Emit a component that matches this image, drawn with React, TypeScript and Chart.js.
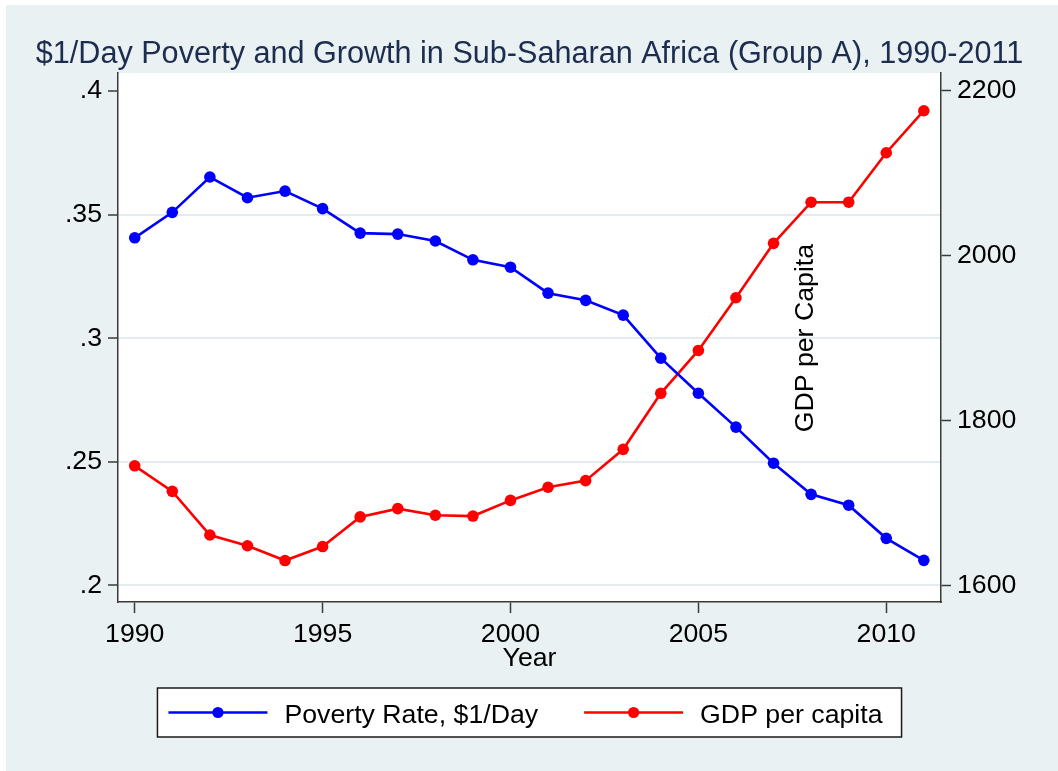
import React, { useEffect, useRef } from 'react';
import { Chart, registerables } from 'chart.js';

Chart.register(...registerables);

const years = [1990, 1991, 1992, 1993, 1994, 1995, 1996, 1997, 1998, 1999, 2000, 2001, 2002, 2003, 2004, 2005, 2006, 2007, 2008, 2009, 2010, 2011];
const povertyRate = [0.3406, 0.3509, 0.3652, 0.3568, 0.3595, 0.3524, 0.3425, 0.3421, 0.3393, 0.3317, 0.3287, 0.3182, 0.3153, 0.3093, 0.2919, 0.2777, 0.264, 0.2494, 0.2368, 0.2324, 0.219, 0.2101];
const gdpPerCapita = [1745, 1714, 1661, 1648, 1630, 1647, 1683, 1693, 1685, 1684, 1703, 1719, 1727, 1765, 1833, 1885, 1949, 2015, 2065, 2065, 2125, 2176];
const xTicks = [1990, 1995, 2000, 2005, 2010];
const leftTicks = [0.2, 0.25, 0.3, 0.35, 0.4];
const rightTicks = [1600, 1800, 2000, 2200];

const titleText = '$1/Day Poverty and Growth in Sub-Saharan Africa (Group A), 1990-2011';
const xTitle = 'Year';
const povertyLabel = 'Poverty Rate, $1/Day';
const gdpLabel = 'GDP per capita';
const annotationText = 'GDP per Capita';
const annotationYear = 2007.86;
const annotationValue = 1900;

const FONT = "'Liberation Sans', Arial, Helvetica, sans-serif";
const BG = '#eaf1f3';
const GRID = '#e2ebee';
const AXIS = '#3a3a3a';
const NAVY = '#1c2d50';
const BLUE = '#0000ff';
const RED = '#ff0000';
const TEXT_SIZE = 26.7;

const W = 1052;
const H = 766;

const fmtLeft = (v: number) => {
  const s = v.toFixed(2).replace(/0+$/, '').replace(/\.$/, '');
  return s.replace(/^0\./, '.');
};

const decorPlugin = {
  id: 'decor',
  afterDraw(chart: any) {
    const { ctx, chartArea, scales } = chart;
    const cx = (chartArea.left + chartArea.right) / 2;
    ctx.save();
    // Title
    ctx.font = `30.6px ${FONT}`;
    ctx.fillStyle = NAVY;
    ctx.textAlign = 'center';
    ctx.textBaseline = 'alphabetic';
    ctx.fillText(titleText, cx, chartArea.top - 9.7);

    // Rotated annotation
    const ax = scales.x.getPixelForValue(annotationYear);
    const ay = scales.y1.getPixelForValue(annotationValue);
    ctx.save();
    ctx.translate(ax, ay);
    ctx.rotate(-Math.PI / 2);
    ctx.font = `${TEXT_SIZE}px ${FONT}`;
    ctx.fillStyle = '#000';
    ctx.textAlign = 'center';
    ctx.textBaseline = 'middle';
    ctx.fillText(annotationText, 0, 0);
    ctx.restore();

    // Legend
    ctx.font = `${TEXT_SIZE}px ${FONT}`;
    const t1 = ctx.measureText(povertyLabel).width;
    const t2 = ctx.measureText(gdpLabel).width;
    const sym = 99;
    const padL = 11;
    const gap = 17;
    const colGap = 46;
    const padR = 19;
    const bw = padL + sym + gap + t1 + colGap + sym + gap + t2 + padR;
    const bh = 49;
    const bx = cx - bw / 2;
    const by = chartArea.bottom + 86;
    ctx.fillStyle = '#ffffff';
    ctx.fillRect(bx, by, bw, bh);
    ctx.strokeStyle = '#1a1a1a';
    ctx.lineWidth = 1.5;
    ctx.strokeRect(bx, by, bw, bh);
    const my = by + bh / 2;
    const items = [
      { color: BLUE, label: povertyLabel, x: bx + padL },
      { color: RED, label: gdpLabel, x: bx + padL + sym + gap + t1 + colGap },
    ];
    for (const it of items) {
      ctx.strokeStyle = it.color;
      ctx.lineWidth = 2.6;
      ctx.beginPath();
      ctx.moveTo(it.x, my);
      ctx.lineTo(it.x + sym, my);
      ctx.stroke();
      ctx.fillStyle = it.color;
      ctx.beginPath();
      ctx.arc(it.x + sym / 2, my, 5.6, 0, Math.PI * 2);
      ctx.fill();
      ctx.fillStyle = '#000';
      ctx.textAlign = 'left';
      ctx.textBaseline = 'alphabetic';
      ctx.fillText(it.label, it.x + sym + gap, my + 10);
    }
    ctx.restore();
  },
};

export default function App() {
  const ref = useRef<HTMLCanvasElement | null>(null);

  useEffect(() => {
    if (!ref.current) return;
    const tickFont = { family: FONT, size: TEXT_SIZE };
    const chart = new Chart(ref.current, {
      type: 'line',
      data: {
        datasets: [
          {
            label: povertyLabel,
            data: years.map((y, i) => ({ x: y, y: povertyRate[i] })),
            yAxisID: 'y',
            borderColor: BLUE,
            backgroundColor: BLUE,
            borderWidth: 2.6,
            pointRadius: 5.8,
            pointBorderWidth: 0,
            pointBackgroundColor: BLUE,
            tension: 0,
          },
          {
            label: gdpLabel,
            data: years.map((y, i) => ({ x: y, y: gdpPerCapita[i] })),
            yAxisID: 'y1',
            borderColor: RED,
            backgroundColor: RED,
            borderWidth: 2.6,
            pointRadius: 5.8,
            pointBorderWidth: 0,
            pointBackgroundColor: RED,
            tension: 0,
          },
        ],
      },
      options: {
        animation: false,
        responsive: false,
        layout: { padding: { top: 68, bottom: 99.5, left: 0, right: 0 } },
        plugins: {
          legend: { display: false },
          title: { display: false },
          tooltip: { enabled: false },
        },
        scales: {
          x: {
            type: 'linear',
            position: 'bottom',
            min: 1989.555,
            max: 2011.457,
            afterBuildTicks: (s: any) => {
              s.ticks = xTicks.map((v) => ({ value: v }));
            },
            afterFit: (s: any) => {
              s.height = 69.5;
            },
            ticks: {
              font: tickFont,
              color: '#000',
              padding: 6,
              maxRotation: 0,
              autoSkip: false,
              callback: (v: any) => String(v),
            },
            grid: { drawOnChartArea: false, drawTicks: true, tickLength: 11, tickColor: AXIS, tickWidth: 1.5 },
            border: { display: true, color: AXIS, width: 1.5 },
            title: { display: true, text: xTitle, font: { family: FONT, size: TEXT_SIZE, lineHeight: 1 }, color: '#000', padding: { top: 0, bottom: 0 } },
          },
          y: {
            type: 'linear',
            position: 'left',
            min: 0.19324,
            max: 0.40728,
            afterBuildTicks: (s: any) => {
              s.ticks = leftTicks.map((v) => ({ value: v }));
            },
            afterFit: (s: any) => {
              s.width = 112;
            },
            ticks: { font: tickFont, color: '#000', padding: 6, callback: (v: any) => fmtLeft(Number(v)) },
            grid: {
              drawOnChartArea: true,
              color: (c: any) => (c.tick && c.tick.value > 0.399 ? 'rgba(0,0,0,0)' : GRID),
              lineWidth: 2,
              tickLength: 10,
              tickColor: AXIS,
              tickWidth: 1.5,
            },
            border: { display: true, color: AXIS, width: 1.5 },
          },
          y1: {
            type: 'linear',
            position: 'right',
            min: 1579.7,
            max: 2221.8,
            afterBuildTicks: (s: any) => {
              s.ticks = rightTicks.map((v) => ({ value: v }));
            },
            afterFit: (s: any) => {
              s.width = 117;
            },
            ticks: { font: tickFont, color: '#000', padding: 6, callback: (v: any) => String(v) },
            grid: { drawOnChartArea: false, tickLength: 10, tickColor: AXIS, tickWidth: 1.5 },
            border: { display: true, color: AXIS, width: 1.5 },
          },
        },
      },
      plugins: [
        {
          id: 'plotBg',
          beforeDraw(chart: any) {
            const { ctx, chartArea } = chart;
            ctx.save();
            ctx.fillStyle = '#ffffff';
            ctx.fillRect(chartArea.left, chartArea.top, chartArea.right - chartArea.left, chartArea.bottom - chartArea.top);
            ctx.restore();
          },
        },
        decorPlugin,
      ],
    } as any);
    return () => chart.destroy();
  }, []);

  return (
    <div style={{ position: 'absolute', left: 6, top: 5, width: W, height: H, background: BG, overflow: 'hidden' }}>
      <canvas ref={ref} width={W} height={H} style={{ width: W, height: H, display: 'block' }} />
    </div>
  );
}
